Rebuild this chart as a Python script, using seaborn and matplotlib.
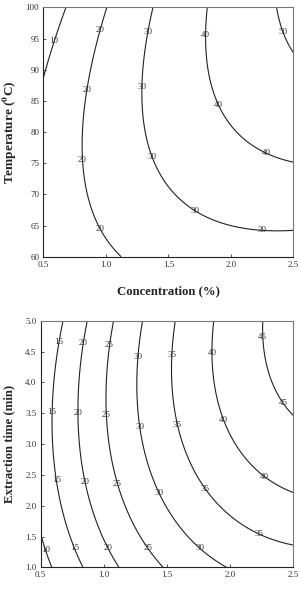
import numpy as np
import matplotlib
matplotlib.use("Agg")
import matplotlib.pyplot as plt
import seaborn as sns

# points read off the contour lines of the reference: (level, x, y)
# top panel: concentration (%) vs temperature (C)
top_levels = [10, 10, 10,
              20, 20, 20, 20, 20, 20, 20, 20,
              30, 30, 30, 30, 30, 30, 30, 30, 30, 30,
              40, 40, 40, 40, 40, 40, 40,
              50, 50, 50]
top_conc = [0.50, 0.593, 0.679,
            1.007, 0.953, 0.86, 0.82, 0.815, 0.86, 0.953, 1.127,
            1.372, 1.34, 1.295, 1.295, 1.367, 1.487, 1.713, 2.02, 2.26, 2.50,
            1.807, 1.799, 1.82, 1.90, 2.073, 2.287, 2.50,
            2.367, 2.42, 2.50]
top_temp = [89.7, 94.5, 100.0,
            100.0, 96.3, 86.7, 79.8, 75.5, 69.1, 64.5, 60.0,
            100.0, 96.1, 87.2, 81.4, 76.0, 71.2, 67.4, 64.8, 64.3, 64.3,
            100.0, 95.6, 89.7, 84.3, 79.3, 76.6, 75.1,
            100.0, 96.1, 92.6]

# bottom panel: concentration (%) vs extraction time (min)
bot_levels = [10, 10, 10,
              15, 15, 15, 15, 15, 15,
              20, 20, 20, 20, 20, 20,
              25, 25, 25, 25, 25, 25,
              30, 30, 30, 30, 30, 30,
              35, 35, 35, 35, 35, 35,
              40, 40, 40, 40, 40,
              45, 45, 45, 45, 45]
bot_conc = [0.50, 0.547, 0.587,
            0.679, 0.648, 0.587, 0.627, 0.772, 0.825,
            0.869, 0.838, 0.798, 0.851, 1.028, 1.123,
            1.075, 1.044, 1.017, 1.107, 1.352, 1.463,
            1.313, 1.268, 1.286, 1.439, 1.761, 1.986,
            1.563, 1.54, 1.584, 1.809, 2.236, 2.50,
            1.867, 1.859, 1.951, 2.276, 2.50,
            2.263, 2.263, 2.302, 2.42, 2.50]
bot_time = [1.524, 1.28, 1.0,
            5.0, 4.66, 3.52, 2.42, 1.31, 1.0,
            5.0, 4.64, 3.51, 2.39, 1.31, 1.0,
            5.0, 4.60, 3.47, 2.35, 1.31, 1.0,
            5.0, 4.42, 3.28, 2.20, 1.31, 1.0,
            5.0, 4.44, 3.31, 2.28, 1.55, 1.35,
            5.0, 4.48, 3.39, 2.47, 2.20,
            5.0, 4.73, 4.20, 3.66, 3.45]

x_ticks = [0.5, 1.0, 1.5, 2.0, 2.5]
top_yticks = [60, 65, 70, 75, 80, 85, 90, 95, 100]
bot_yticks = [1.0, 1.5, 2.0, 2.5, 3.0, 3.5, 4.0, 4.5, 5.0]


def quad_surface(lv, xs, ys, xlim, ylim, n=200):
    # second-order response surface fitted through the read contour points
    xs = np.asarray(xs); ys = np.asarray(ys); lv = np.asarray(lv, float)
    xc, xr = np.mean(xlim), np.ptp(xlim) / 2
    yc, yr = np.mean(ylim), np.ptp(ylim) / 2
    u = (xs - xc) / xr
    v = (ys - yc) / yr
    A = np.column_stack([np.ones_like(u), u, v, u * u, v * v, u * v])
    coef, *_ = np.linalg.lstsq(A, lv, rcond=None)
    gx = np.linspace(xlim[0], xlim[1], n)
    gy = np.linspace(ylim[0], ylim[1], n)
    X, Y = np.meshgrid(gx, gy)
    U = (X - xc) / xr
    V = (Y - yc) / yr
    Z = (coef[0] + coef[1] * U + coef[2] * V + coef[3] * U * U
         + coef[4] * V * V + coef[5] * U * V)
    return X, Y, Z


sns.set_theme(style="white")
plt.rcParams["font.family"] = ["Liberation Serif", "DejaVu Serif"]
plt.rcParams["mathtext.fontset"] = "stix"

fig = plt.figure(figsize=(3.01, 5.97), dpi=100)
ax1 = fig.add_axes([0.144, 0.570, 0.831, 0.4176])
ax2 = fig.add_axes([0.135, 0.0497, 0.839, 0.413])

top_lab_pos = [(0.593, 94.5),
               (0.953, 96.3), (0.852, 86.7), (0.815, 75.5), (0.953, 64.5),
               (1.34, 96.1), (1.287, 87.2), (1.367, 76.0), (1.713, 67.4), (2.247, 64.3),
               (1.799, 95.6), (1.90, 84.3), (2.287, 76.6),
               (2.415, 96.1)]
bot_lab_pos = [(0.547, 1.28),
               (0.648, 4.66), (0.587, 3.52), (0.627, 2.42), (0.772, 1.31),
               (0.838, 4.64), (0.798, 3.51), (0.851, 2.39), (1.028, 1.31),
               (1.044, 4.60), (1.017, 3.47), (1.107, 2.35), (1.352, 1.31),
               (1.268, 4.42), (1.286, 3.28), (1.439, 2.20), (1.761, 1.31),
               (1.54, 4.44), (1.584, 3.31), (1.809, 2.28), (2.236, 1.55),
               (1.859, 4.48), (1.951, 3.39), (2.276, 2.47),
               (2.263, 4.73), (2.42, 3.66)]

panels = [
    (ax1, top_levels, top_conc, top_temp, (0.5, 2.5), (60, 100),
     [10, 20, 30, 40, 50], top_yticks, top_lab_pos),
    (ax2, bot_levels, bot_conc, bot_time, (0.5, 2.5), (1.0, 5.0),
     [10, 15, 20, 25, 30, 35, 40, 45], bot_yticks, bot_lab_pos),
]

for ax, lv, xs, ys, xlim, ylim, levels, yticks, lab_pos in panels:
    X, Y, Z = quad_surface(lv, xs, ys, xlim, ylim)
    cs = ax.contour(X, Y, Z, levels=levels, colors="#222222", linewidths=0.8)
    labels = ax.clabel(cs, fmt="%d", fontsize=6.5, inline=False,
                       manual=lab_pos, colors="#333333")
    for t in labels:
        t.set_rotation(0)
    ax.set_xlim(*xlim)
    ax.set_ylim(*ylim)
    ax.set_xticks(x_ticks)
    ax.set_xticklabels([f"{v:.1f}" for v in x_ticks])
    ax.set_yticks(yticks)
    if ylim[1] > 10:
        ax.set_yticklabels([f"{v:d}" for v in yticks])
    else:
        ax.set_yticklabels([f"{v:.1f}" for v in yticks])
    ax.tick_params(direction="in", length=2, width=0.6, labelsize=6.5,
                   colors="#333333", pad=3, top=False, right=False,
                   left=True, bottom=True)
    for side in ["left", "bottom"]:
        ax.spines[side].set_color("#222222")
        ax.spines[side].set_linewidth(0.8)
    for side in ["top", "right"]:
        ax.spines[side].set_color("#777777")
        ax.spines[side].set_linewidth(0.8)
    ax.set_facecolor("white")

ax1.set_xlabel("Concentration (%)", fontsize=9.2, fontweight="bold", labelpad=12)
ax1.set_ylabel(r"Temperature ($\mathbf{^0}$C)", fontsize=9.5, fontweight="bold",
               labelpad=5)
ax2.set_ylabel("Extraction time (min)", fontsize=9.2, fontweight="bold",
               labelpad=7)

fig.savefig("out.png", dpi=100, facecolor="white")
